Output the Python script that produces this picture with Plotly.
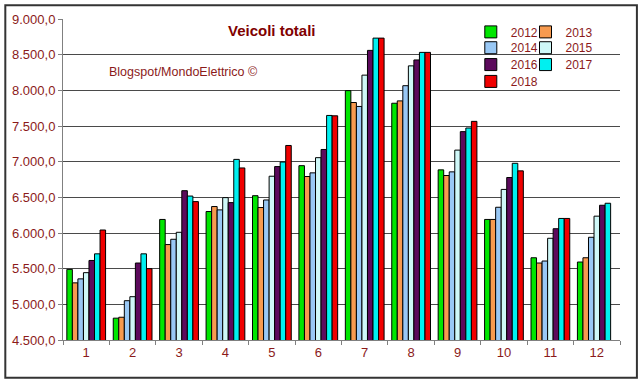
import plotly.graph_objects as go

months = ["1", "2", "3", "4", "5", "6", "7", "8", "9", "10", "11", "12"]
years = ["2012", "2013", "2014", "2015", "2016", "2017", "2018"]

v2012 = [5490, 4806, 6190, 6301, 6523, 6944, 7996, 7819, 6885, 6190, 5653, 5593]
v2013 = [5301, 4819, 5838, 6371, 6357, 6792, 7829, 7852, 6806, 6190, 5579, 5653]
v2014 = [5357, 5051, 5912, 6324, 6463, 6843, 7774, 8065, 6857, 6361, 5607, 5940]
v2015 = [5444, 5107, 6010, 6496, 6796, 7056, 8213, 8343, 7162, 6611, 5926, 6236]
v2016 = [5615, 5579, 6593, 6426, 6931, 7171, 8560, 8426, 7421, 6778, 6060, 6389]
v2017 = [5708, 5708, 6518, 7032, 6995, 7648, 8732, 8532, 7472, 6977, 6204, 6417]
v2018 = [6042, 5500, 6440, 6912, 7227, 7643, 8732, 8532, 7565, 6871, 6204, None]

series = [v2012, v2013, v2014, v2015, v2016, v2017, v2018]
colors = ["#00e600", "#f79a4f", "#99c8f5", "#cff8f8", "#5c0a5c", "#00f0f0", "#f00000"]

W, H = 640, 381
L, R, T, B = 60, 20, 16, 41
pw, ph = W - L - R, H - T - B

def px(x):
    return (x - L) / pw

def py(y):
    return (H - B - y) / ph

# legend positions (symbol centre x, row centre y) in pixels
leg_pos = [(491, 29), (546, 29), (491, 45), (546, 45), (491, 62), (546, 62), (491, 79)]

red = "#8b1a1a"
font_family = "Liberation Sans, Arial, sans-serif"

fig = go.Figure()
layout_legends = {}
for i, (yr, vals, col) in enumerate(zip(years, series, colors)):
    lname = "legend" if i == 0 else f"legend{i+1}"
    fig.add_trace(go.Bar(
        x=months, y=vals, name=yr,
        marker=dict(color=col, line=dict(color="#000000", width=1)),
        legend=lname,
    ))
    sx, sy = leg_pos[i]
    layout_legends[lname] = dict(
        x=px(sx - 21), y=py(sy), xanchor="left", yanchor="middle",
        bgcolor="rgba(0,0,0,0)", borderwidth=0,
        font=dict(family=font_family, size=12, color=red),
    )

fig.update_layout(
    width=W, height=H,
    margin=dict(l=L, r=R, t=T, b=B),
    paper_bgcolor="white", plot_bgcolor="white",
    barmode="group", bargap=0.165, bargroupgap=0,
    separators=",.",
    showlegend=True,
    **layout_legends,
)

fig.update_xaxes(
    type="category", showgrid=False, showline=True, linecolor="#808080", linewidth=1,
    ticks="outside", tickson="boundaries", ticklen=4, tickcolor="#808080",
    tickfont=dict(family=font_family, size=13, color=red),
)
fig.update_yaxes(
    range=[4500, 9000], dtick=500, tickformat=",.1f",
    showgrid=True, gridcolor="#4a4a4a", gridwidth=1,
    showline=True, linecolor="#808080", linewidth=1,
    ticks="outside", ticklen=4, tickcolor="#808080",
    tickfont=dict(family=font_family, size=13, color=red),
    zeroline=False,
)

fig.add_annotation(
    text="<b>Veicoli totali</b>", x=px(270), y=py(28), xref="paper", yref="paper",
    xanchor="center", yanchor="middle",
    showarrow=False, font=dict(family=font_family, size=15, color="#800000"),
)
fig.add_annotation(
    text="Blogspot/MondoElettrico ©", x=px(181), y=py(69), xref="paper", yref="paper",
    xanchor="center", yanchor="middle",
    showarrow=False, font=dict(family=font_family, size=12.5, color=red),
)

fig.add_shape(
    type="rect", xref="paper", yref="paper",
    x0=px(2), x1=px(637), y0=py(378), y1=py(2),
    line=dict(color="#333333", width=2), layer="above",
)

fig.write_html(
    "out.html",
    config={"displayModeBar": False},
    post_script="document.body.style.margin='0';",
)
